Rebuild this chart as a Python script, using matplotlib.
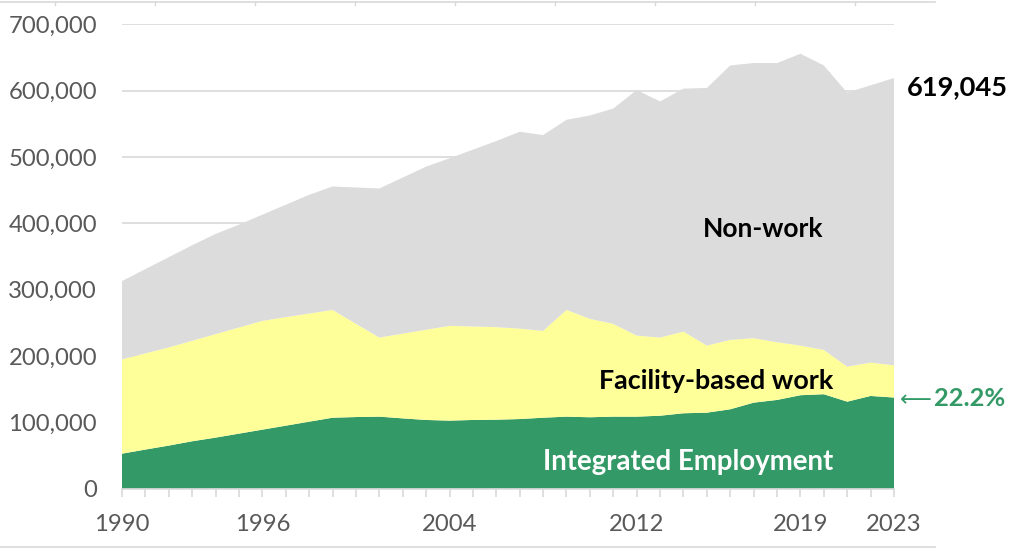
import matplotlib
matplotlib.use("Agg")
import matplotlib.pyplot as plt
from matplotlib.lines import Line2D
import numpy as np

years = list(range(1990, 2024))
integrated = [52800, 59000, 65000, 71500, 77000, 83000, 89000, 95000, 101000, 107000,
              108000, 108600, 106000, 103600, 102600, 103600, 104000, 105000, 107000, 108600,
              107700, 108600, 108600, 110000, 113700, 114600, 119700, 129700, 133800, 140900,
              142400, 131200, 139800, 137428]
facility = [142200, 145000, 148000, 151500, 156000, 160000, 164000, 163600, 163000, 162500,
            140600, 119200, 127700, 136000, 142800, 140900, 139500, 136300, 130900, 160900,
            148300, 139800, 122200, 117800, 123100, 101100, 104600, 97100, 87000, 74800,
            66800, 52800, 50200, 48572]
nonwork = [118000, 127000, 136000, 144000, 151000, 155000, 160000, 169400, 179000, 186000,
           205400, 224700, 235300, 245900, 252600, 266500, 280500, 296700, 295100, 286500,
           306600, 324600, 370200, 355900, 366200, 388300, 413700, 414800, 420800, 439900,
           428800, 413000, 418000, 433045]
label_years = [1990, 1996, 2004, 2012, 2019, 2023]
y_ticks = [0, 100000, 200000, 300000, 400000, 500000, 600000, 700000]
total_label = "619,045"
share_arrow = "\u27f5"
share_label = "22.2%"

GREEN = "#339966"
YELLOW = "#FFFF99"
GRAY = "#DCDCDC"
TICKC = "#595959"
LINEC = "#D9D9D9"

plt.rcParams['font.family'] = ['Lato', 'DejaVu Sans']

fig = plt.figure(figsize=(10.15, 5.5), dpi=100)
ax = fig.add_axes([122/1015, 1-488.7/550, (894-122)/1015, (488.7-24.3)/550])

ax.stackplot(years, integrated, facility, nonwork, colors=[GREEN, YELLOW, GRAY],
             linewidth=0, zorder=2)

ax.set_xlim(1990, 2023)
ax.set_ylim(0, 700000)
ax.set_yticks(y_ticks)
ax.set_yticklabels([f"{v:,}" for v in y_ticks])
ax.set_xticks(years)
ax.set_xticklabels([str(y) if y in label_years else "" for y in years])
ax.grid(axis='y', color=LINEC, linewidth=1.2, zorder=0)
ax.set_axisbelow(True)
for s in ['top', 'right', 'left']:
    ax.spines[s].set_visible(False)
ax.spines['bottom'].set_color(LINEC)
ax.spines['bottom'].set_linewidth(1.2)
ax.spines['bottom'].set_zorder(3)
ax.tick_params(axis='y', length=0, pad=18, labelsize=17.2, labelcolor=TICKC)
ax.tick_params(axis='x', length=6, width=1.2, color=LINEC, pad=12, labelsize=17.2, labelcolor=TICKC)

ax.text(2017.4, 391700, "Non-work", ha='center', va='center', fontsize=19,
        fontweight='bold', color='black', zorder=5)
ax.text(2015.4, 162400, "Facility-based work", ha='center', va='center', fontsize=19.4,
        fontweight='bold', color='black', zorder=5)
ax.text(2014.2, 40300, "Integrated Employment", ha='center', va='center', fontsize=19.9,
        fontweight='bold', color='white', zorder=5)
ax.text(2023.55, 605800, total_label, ha='left', va='center', fontsize=19.6,
        fontweight='bold', color='black', clip_on=False)
ax.text(2023.26, 133500, share_arrow, ha='left', va='center', fontsize=16,
        color=GREEN, family='DejaVu Sans', clip_on=False)
ax.text(2024.72, 135300, share_label, ha='left', va='center', fontsize=18.3,
        fontweight='bold', color=GREEN, clip_on=False)

# outer frame lines of the original screenshot
fig.add_artist(Line2D([0, 935/1015], [1-2/550, 1-2/550], color=LINEC, linewidth=1.2))
for xp in range(55, 935, 100):
    fig.add_artist(Line2D([xp/1015, xp/1015], [1-2/550, 1-5/550], color=LINEC, linewidth=1))
fig.add_artist(Line2D([0, 935/1015], [1-547/550, 1-547/550], color=LINEC, linewidth=1.2))

fig.savefig("out.png", dpi=100)
